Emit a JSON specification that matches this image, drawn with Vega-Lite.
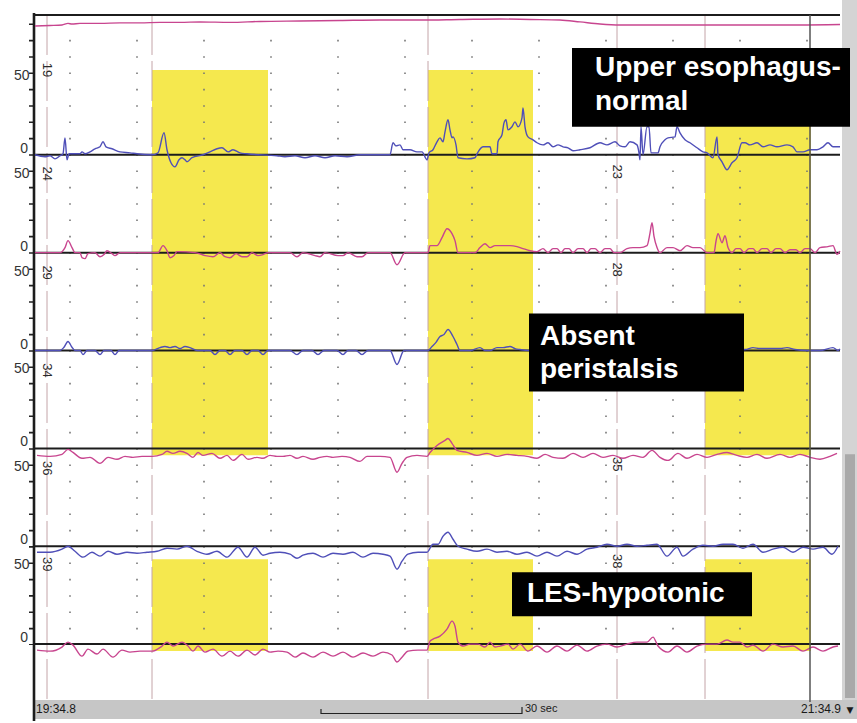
{
"$schema":"https://vega.github.io/schema/vega-lite/v6.json",
"width":857,"height":723,
"autosize":{"type":"fit","contains":"padding"},
"padding":0,
"background":"#ffffff",
"config":{"view":{"stroke":null},"text":{"font":"Liberation Sans"}},
"resolve":{"scale":{"y":"independent"}},
"datasets":{
"panel":[{"kind":"strip","x":842,"x2":857,"y":0,"y2":701},{"kind":"thumb","x":845,"x2":855,"y":455,"y2":699},{"kind":"bar","x":33,"x2":857,"y":701,"y2":720}],
"bands":[{"x":152,"x2":268,"y":70,"y2":456},{"x":152,"x2":268,"y":560,"y2":652},{"x":428,"x2":533,"y":70,"y2":456},{"x":428,"x2":533,"y":560,"y2":652},{"x":705,"x2":811,"y":70,"y2":456},{"x":705,"x2":811,"y":560,"y2":652}],
"vlines":[{"x":47,"y":15,"y2":703},{"x":152,"y":15,"y2":703},{"x":428,"y":15,"y2":703},{"x":617,"y":15,"y2":703},{"x":705,"y":15,"y2":703}],
"dots":[{"x":70,"y":39.9,"y2":646},{"x":137,"y":39.9,"y2":646},{"x":204,"y":39.9,"y2":646},{"x":271,"y":39.9,"y2":646},{"x":338,"y":39.9,"y2":646},{"x":405,"y":39.9,"y2":646},{"x":472,"y":39.9,"y2":646},{"x":539,"y":39.9,"y2":646},{"x":606,"y":39.9,"y2":646},{"x":673,"y":39.9,"y2":646},{"x":740,"y":39.9,"y2":646},{"x":807,"y":39.9,"y2":646}],
"ticks":[{"x":31,"y":23.5,"y2":646}],
"hlines":[{"x":35,"x2":840,"y":15},{"x":35,"x2":840,"y":155},{"x":35,"x2":840,"y":253},{"x":35,"x2":840,"y":351},{"x":35,"x2":840,"y":449},{"x":35,"x2":840,"y":547},{"x":35,"x2":840,"y":645}],
"axisline":[{"x":34,"y":13,"y2":722}],
"cursor":[{"x":810,"y":15,"y2":703}],
"axislabels":[{"x":29.5,"y":76,"label":"50"},{"x":28,"y":149,"label":"0"},{"x":29.5,"y":174,"label":"50"},{"x":28,"y":247,"label":"0"},{"x":29.5,"y":272,"label":"50"},{"x":28,"y":345,"label":"0"},{"x":29.5,"y":370,"label":"50"},{"x":28,"y":443,"label":"0"},{"x":29.5,"y":468,"label":"50"},{"x":28,"y":541,"label":"0"},{"x":29.5,"y":566,"label":"50"},{"x":28,"y":639,"label":"0"}],
"chlabels":[{"x":47,"y":70,"label":"19"},{"x":47,"y":174,"label":"24"},{"x":47,"y":273,"label":"29"},{"x":47,"y":371,"label":"34"},{"x":47,"y":469,"label":"36"},{"x":47,"y":565,"label":"39"},{"x":617,"y":172,"label":"23"},{"x":617,"y":270,"label":"28"},{"x":617,"y":465,"label":"35"},{"x":617,"y":562,"label":"38"}],
"boxes":[{"x":572,"x2":850,"y":48,"y2":127},{"x":529,"x2":744,"y":314,"y2":392},{"x":512,"x2":752,"y":573,"y2":617}],
"boxtext":[{"x":595,"y":76,"label":"Upper esophagus-"},{"x":595,"y":110,"label":"normal"},{"x":540,"y":345,"label":"Absent"},{"x":540,"y":379,"label":"peristalsis"},{"x":527,"y":603,"label":"LES-hypotonic"}],
"footleft":[{"x":36,"y":710,"label":"19:34.8"}],
"footmid":[{"x":525,"y":710,"label":"30 sec"}],
"footright":[{"x":841,"y":710,"label":"21:34.9"}],
"footarrow":[{"x":850,"y":711,"label":"▼"}],
"scalebar":[{"x":321,"x2":522,"y":714.5}],
"scaleticks":[{"x":321,"y":710,"y2":715},{"x":522,"y":708,"y2":715}],
"c14":[{"t":35,"p":19.0},{"t":50,"p":19.3},{"t":62,"p":19.6},{"t":68,"p":20.6},{"t":72,"p":20.2},{"t":80,"p":20.6},{"t":100,"p":20.6},{"t":120,"p":20.9},{"t":140,"p":20.9},{"t":160,"p":21.2},{"t":180,"p":21.2},{"t":200,"p":21.5},{"t":230,"p":21.2},{"t":260,"p":21.8},{"t":300,"p":22.1},{"t":340,"p":22.4},{"t":380,"p":22.7},{"t":420,"p":22.7},{"t":460,"p":23.0},{"t":500,"p":23.3},{"t":530,"p":23.0},{"t":560,"p":22.7},{"t":580,"p":21.5},{"t":600,"p":20.2},{"t":620,"p":19.6},{"t":660,"p":19.6},{"t":700,"p":19.6},{"t":760,"p":19.6},{"t":800,"p":19.6},{"t":840,"p":19.9}],
"c19":[{"t":35,"p":0},{"t":45,"p":-1.2},{"t":50,"p":-0.6},{"t":55,"p":-2.5},{"t":60,"p":-0.6},{"t":63,"p":0.6},{"t":65,"p":10.4},{"t":67,"p":-3.1},{"t":69,"p":0.6},{"t":80,"p":0.6},{"t":82,"p":1.8},{"t":85,"p":0.6},{"t":90,"p":1.8},{"t":95,"p":3.7},{"t":100,"p":4.9},{"t":103,"p":8},{"t":106,"p":4.9},{"t":112,"p":3.7},{"t":120,"p":1.8},{"t":130,"p":1.2},{"t":137,"p":0.6},{"t":152,"p":0},{"t":158,"p":1.2},{"t":164,"p":13.5},{"t":167,"p":3.1},{"t":171,"p":-4.9},{"t":175,"p":-7.4},{"t":179,"p":-3.1},{"t":182,"p":-1.8},{"t":185,"p":-3.1},{"t":187,"p":-4.3},{"t":192,"p":-1.8},{"t":203,"p":0},{"t":210,"p":1.8},{"t":217,"p":3.7},{"t":222,"p":4.3},{"t":228,"p":1.8},{"t":233,"p":3.1},{"t":240,"p":1.2},{"t":247,"p":0.6},{"t":277,"p":-0.6},{"t":285,"p":-1.2},{"t":295,"p":-0.6},{"t":305,"p":-1.8},{"t":315,"p":-0.6},{"t":325,"p":-1.8},{"t":335,"p":-0.6},{"t":347,"p":-1.2},{"t":360,"p":0},{"t":390,"p":0},{"t":393,"p":7.4},{"t":396,"p":5.5},{"t":400,"p":6.1},{"t":403,"p":3.1},{"t":410,"p":3.1},{"t":417,"p":1.8},{"t":422,"p":1.8},{"t":427,"p":-3.1},{"t":429,"p":1.2},{"t":433,"p":3.1},{"t":437,"p":8},{"t":440,"p":10.4},{"t":443,"p":8},{"t":445,"p":14.1},{"t":448,"p":21.5},{"t":450,"p":15.3},{"t":452,"p":10.4},{"t":453,"p":11},{"t":456,"p":6.1},{"t":458,"p":-1.8},{"t":467,"p":-2.5},{"t":475,"p":-1.8},{"t":477,"p":0.6},{"t":483,"p":4.9},{"t":490,"p":4.9},{"t":492,"p":0.6},{"t":497,"p":0.6},{"t":498,"p":8},{"t":502,"p":12.3},{"t":504,"p":19.6},{"t":506,"p":21.5},{"t":508,"p":15.3},{"t":512,"p":17.2},{"t":515,"p":20.2},{"t":518,"p":17.2},{"t":522,"p":22.7},{"t":523,"p":28.8},{"t":525,"p":17.2},{"t":528,"p":11},{"t":533,"p":9.2},{"t":537,"p":7.4},{"t":543,"p":6.1},{"t":548,"p":7.4},{"t":553,"p":4.9},{"t":558,"p":6.1},{"t":563,"p":4.9},{"t":568,"p":4.3},{"t":573,"p":2.5},{"t":580,"p":3.1},{"t":590,"p":4.3},{"t":600,"p":7.4},{"t":607,"p":6.1},{"t":615,"p":8},{"t":620,"p":5.5},{"t":625,"p":4.9},{"t":630,"p":8},{"t":637,"p":6.1},{"t":639,"p":1.2},{"t":640,"p":-3.1},{"t":641,"p":17.2},{"t":643,"p":0},{"t":647,"p":17.2},{"t":649,"p":17.2},{"t":651,"p":1.2},{"t":658,"p":1.2},{"t":660,"p":4.9},{"t":665,"p":9.2},{"t":668,"p":10.4},{"t":675,"p":11},{"t":677,"p":17.2},{"t":680,"p":13.5},{"t":685,"p":9.2},{"t":690,"p":7.4},{"t":697,"p":4.3},{"t":703,"p":1.8},{"t":707,"p":1.2},{"t":713,"p":-1.8},{"t":717,"p":11},{"t":718,"p":0},{"t":722,"p":-4.3},{"t":727,"p":-9.2},{"t":732,"p":-4.9},{"t":737,"p":-1.8},{"t":742,"p":7.4},{"t":745,"p":7.4},{"t":750,"p":6.1},{"t":757,"p":7.4},{"t":763,"p":4.9},{"t":770,"p":6.1},{"t":777,"p":4.9},{"t":787,"p":6.1},{"t":793,"p":4.9},{"t":797,"p":1.8},{"t":803,"p":1.8},{"t":810,"p":3.1},{"t":817,"p":3.1},{"t":823,"p":4.9},{"t":828,"p":7.4},{"t":833,"p":4.9},{"t":840,"p":4.9}],
"c24":[{"t":35,"p":0},{"t":60,"p":0},{"t":65,"p":3.1},{"t":68,"p":7.4},{"t":72,"p":3.1},{"t":75,"p":0},{"t":80,"p":0},{"t":82,"p":-3.1},{"t":85,"p":-3.7},{"t":88,"p":-0.6},{"t":95,"p":0},{"t":100,"p":-2.5},{"t":104,"p":-1.2},{"t":107,"p":1.2},{"t":112,"p":-0.6},{"t":115,"p":-1.8},{"t":120,"p":0},{"t":158,"p":0},{"t":163,"p":4.3},{"t":167,"p":1.2},{"t":170,"p":-3.1},{"t":174,"p":-1.8},{"t":177,"p":0.6},{"t":195,"p":0},{"t":205,"p":-1.8},{"t":213,"p":-2.5},{"t":220,"p":0},{"t":225,"p":-2.5},{"t":230,"p":-3.1},{"t":236,"p":-0.6},{"t":242,"p":-2.5},{"t":247,"p":-2.5},{"t":252,"p":0},{"t":258,"p":-1.8},{"t":263,"p":-1.2},{"t":268,"p":0},{"t":290,"p":0},{"t":297,"p":-2.5},{"t":303,"p":0},{"t":315,"p":-1.8},{"t":320,"p":-2.5},{"t":325,"p":0},{"t":338,"p":-1.8},{"t":343,"p":-1.8},{"t":348,"p":0},{"t":357,"p":-2.5},{"t":362,"p":-2.5},{"t":368,"p":0},{"t":390,"p":0},{"t":397,"p":-7.4},{"t":405,"p":0},{"t":428,"p":0},{"t":430,"p":4.3},{"t":437,"p":4.3},{"t":442,"p":9.2},{"t":447,"p":14.7},{"t":452,"p":11.7},{"t":455,"p":7.4},{"t":458,"p":0},{"t":475,"p":0},{"t":480,"p":3.1},{"t":485,"p":5.5},{"t":490,"p":3.1},{"t":495,"p":4.3},{"t":510,"p":4.3},{"t":517,"p":3.7},{"t":523,"p":2.5},{"t":530,"p":1.2},{"t":537,"p":0.6},{"t":543,"p":2.5},{"t":548,"p":0},{"t":553,"p":2.5},{"t":557,"p":2.5},{"t":561,"p":0},{"t":565,"p":2.5},{"t":569,"p":2.5},{"t":573,"p":0},{"t":578,"p":2.5},{"t":583,"p":2.5},{"t":587,"p":0},{"t":591,"p":2.5},{"t":595,"p":2.5},{"t":600,"p":0},{"t":605,"p":2.5},{"t":610,"p":2.5},{"t":614,"p":0},{"t":620,"p":0},{"t":627,"p":2.5},{"t":633,"p":3.1},{"t":640,"p":3.1},{"t":647,"p":4.3},{"t":650,"p":12},{"t":652,"p":18.4},{"t":654,"p":10},{"t":657,"p":3.1},{"t":660,"p":0},{"t":667,"p":3.1},{"t":673,"p":3.1},{"t":680,"p":1.2},{"t":687,"p":4.3},{"t":693,"p":3.1},{"t":700,"p":3.1},{"t":707,"p":0},{"t":714,"p":0},{"t":716,"p":7},{"t":718,"p":11.7},{"t":722,"p":6.1},{"t":725,"p":10.4},{"t":728,"p":3.1},{"t":732,"p":0},{"t":736,"p":2.5},{"t":740,"p":2.5},{"t":744,"p":0},{"t":749,"p":2.5},{"t":753,"p":2.5},{"t":757,"p":0},{"t":762,"p":2.5},{"t":767,"p":2.5},{"t":771,"p":0},{"t":776,"p":2.5},{"t":780,"p":2.5},{"t":785,"p":0},{"t":790,"p":1.8},{"t":796,"p":1.8},{"t":800,"p":0},{"t":805,"p":2.5},{"t":810,"p":2.5},{"t":815,"p":0},{"t":820,"p":3.1},{"t":828,"p":3.7},{"t":833,"p":4.3},{"t":837,"p":-1},{"t":840,"p":1}],
"c29":[{"t":35,"p":0},{"t":60,"p":0},{"t":64,"p":2},{"t":68,"p":5.5},{"t":72,"p":2},{"t":75,"p":0},{"t":80,"p":0},{"t":83,"p":-2.5},{"t":87,"p":0},{"t":95,"p":0},{"t":100,"p":-2.5},{"t":104,"p":0},{"t":111,"p":0},{"t":115,"p":-2.5},{"t":119,"p":0},{"t":152,"p":0},{"t":160,"p":1.8},{"t":165,"p":2.5},{"t":170,"p":1.8},{"t":175,"p":2.5},{"t":180,"p":1.2},{"t":185,"p":2.5},{"t":190,"p":1.8},{"t":197,"p":0},{"t":210,"p":0},{"t":215,"p":-2.5},{"t":220,"p":0},{"t":225,"p":0},{"t":230,"p":-2.5},{"t":235,"p":0},{"t":242,"p":0},{"t":247,"p":-2.5},{"t":252,"p":0},{"t":258,"p":0},{"t":263,"p":-2.5},{"t":268,"p":0},{"t":290,"p":0},{"t":297,"p":-2.5},{"t":303,"p":0},{"t":312,"p":0},{"t":318,"p":-2.5},{"t":324,"p":0},{"t":337,"p":0},{"t":343,"p":-2.5},{"t":348,"p":0},{"t":356,"p":0},{"t":362,"p":-2.5},{"t":368,"p":0},{"t":390,"p":0},{"t":397,"p":-8.6},{"t":404,"p":0},{"t":428,"p":0},{"t":432,"p":2.5},{"t":436,"p":5},{"t":440,"p":8.6},{"t":444,"p":9.8},{"t":448,"p":12.9},{"t":453,"p":8.6},{"t":457,"p":3.7},{"t":460,"p":0},{"t":470,"p":0},{"t":480,"p":1.8},{"t":485,"p":0},{"t":490,"p":0},{"t":497,"p":1.8},{"t":503,"p":1.8},{"t":510,"p":2.5},{"t":515,"p":1.2},{"t":520,"p":0.6},{"t":528,"p":0},{"t":540,"p":0.6},{"t":560,"p":0},{"t":600,"p":1},{"t":640,"p":0.6},{"t":680,"p":1},{"t":720,"p":0.6},{"t":745,"p":0.6},{"t":753,"p":1.8},{"t":760,"p":1.2},{"t":770,"p":1.2},{"t":780,"p":1.2},{"t":787,"p":1.8},{"t":795,"p":0.6},{"t":807,"p":0},{"t":820,"p":0},{"t":833,"p":1.8},{"t":838,"p":0},{"t":840,"p":1}],
"c34":[{"t":37,"p":-4.3},{"t":50,"p":-4.9},{"t":62,"p":-3.7},{"t":68,"p":-0.6},{"t":73,"p":-2.5},{"t":82,"p":-6.1},{"t":90,"p":-5.5},{"t":100,"p":-9.2},{"t":108,"p":-5.5},{"t":117,"p":-6.7},{"t":125,"p":-4.9},{"t":133,"p":-5.5},{"t":142,"p":-4.9},{"t":152,"p":-4.9},{"t":162,"p":-3.7},{"t":167,"p":-1.8},{"t":173,"p":-3.1},{"t":180,"p":-1.8},{"t":187,"p":-3.1},{"t":193,"p":-5.5},{"t":198,"p":-2.5},{"t":203,"p":-4.3},{"t":212,"p":-3.1},{"t":220,"p":-6.1},{"t":227,"p":-4.3},{"t":233,"p":-7.4},{"t":242,"p":-3.7},{"t":248,"p":-6.7},{"t":257,"p":-5.5},{"t":263,"p":-6.1},{"t":270,"p":-4.3},{"t":277,"p":-4.9},{"t":283,"p":-4.9},{"t":290,"p":-4.3},{"t":297,"p":-6.1},{"t":303,"p":-4.9},{"t":313,"p":-6.7},{"t":320,"p":-5.5},{"t":327,"p":-4.9},{"t":333,"p":-5.5},{"t":342,"p":-4.9},{"t":350,"p":-5.5},{"t":360,"p":-8.0},{"t":367,"p":-4.9},{"t":380,"p":-4.9},{"t":390,"p":-5.5},{"t":397,"p":-14.7},{"t":402,"p":-9.2},{"t":407,"p":-5.5},{"t":417,"p":-4.3},{"t":427,"p":-4.9},{"t":430,"p":-2.5},{"t":437,"p":1.8},{"t":445,"p":4.9},{"t":448,"p":6.1},{"t":452,"p":3.1},{"t":457,"p":-1.2},{"t":467,"p":-2.5},{"t":477,"p":-4.3},{"t":487,"p":-3.1},{"t":497,"p":-4.9},{"t":507,"p":-3.7},{"t":517,"p":-4.3},{"t":527,"p":-4.9},{"t":537,"p":-6.1},{"t":545,"p":-3.7},{"t":553,"p":-5.5},{"t":563,"p":-6.1},{"t":573,"p":-3.1},{"t":583,"p":-5.5},{"t":593,"p":-3.1},{"t":603,"p":-5.5},{"t":613,"p":-4.3},{"t":623,"p":-6.1},{"t":633,"p":-4.3},{"t":643,"p":-5.5},{"t":652,"p":-1.2},{"t":660,"p":-5.5},{"t":668,"p":-7.4},{"t":678,"p":-3.1},{"t":687,"p":-6.1},{"t":697,"p":-3.7},{"t":707,"p":-5.5},{"t":717,"p":-3.7},{"t":727,"p":-2.5},{"t":737,"p":-4.3},{"t":747,"p":-5.5},{"t":757,"p":-3.7},{"t":767,"p":-6.1},{"t":780,"p":-3.7},{"t":790,"p":-5.5},{"t":800,"p":-3.7},{"t":810,"p":-5.5},{"t":820,"p":-6.7},{"t":830,"p":-4.9},{"t":837,"p":-3.1}],
"c36":[{"t":37,"p":-3.7},{"t":50,"p":-3.7},{"t":62,"p":-1.8},{"t":68,"p":0},{"t":75,"p":-3.1},{"t":83,"p":-6.7},{"t":92,"p":-3.7},{"t":100,"p":-6.1},{"t":108,"p":-3.1},{"t":117,"p":-4.9},{"t":127,"p":-3.7},{"t":137,"p":-4.3},{"t":147,"p":-3.7},{"t":157,"p":-3.1},{"t":167,"p":-1.2},{"t":177,"p":-1.8},{"t":187,"p":0},{"t":197,"p":-3.1},{"t":207,"p":-4.9},{"t":217,"p":-3.1},{"t":227,"p":-6.7},{"t":238,"p":-0.6},{"t":247,"p":-6.7},{"t":255,"p":-0.6},{"t":263,"p":-5.5},{"t":270,"p":-4.3},{"t":280,"p":-3.7},{"t":290,"p":-4.9},{"t":297,"p":-7.4},{"t":303,"p":-5.5},{"t":313,"p":-4.3},{"t":323,"p":-6.7},{"t":333,"p":-4.3},{"t":343,"p":-4.9},{"t":353,"p":-3.7},{"t":363,"p":-6.7},{"t":373,"p":-4.3},{"t":383,"p":-4.9},{"t":390,"p":-6.1},{"t":397,"p":-14.1},{"t":402,"p":-9.2},{"t":408,"p":-4.9},{"t":418,"p":-3.7},{"t":427,"p":-3.7},{"t":433,"p":1.2},{"t":438,"p":1.2},{"t":443,"p":6.1},{"t":448,"p":8.6},{"t":453,"p":4.3},{"t":458,"p":0},{"t":467,"p":-1.8},{"t":477,"p":-3.1},{"t":487,"p":-1.8},{"t":497,"p":-3.7},{"t":507,"p":-3.1},{"t":517,"p":-4.9},{"t":527,"p":-3.7},{"t":537,"p":-6.1},{"t":547,"p":-3.7},{"t":557,"p":-6.1},{"t":567,"p":-3.1},{"t":577,"p":-4.9},{"t":587,"p":-1.8},{"t":597,"p":-0.6},{"t":607,"p":1.2},{"t":617,"p":0},{"t":627,"p":1.2},{"t":637,"p":0},{"t":647,"p":0.6},{"t":657,"p":1.2},{"t":667,"p":-6.1},{"t":677,"p":-0.6},{"t":683,"p":-6.1},{"t":693,"p":-1.8},{"t":703,"p":0.6},{"t":713,"p":0},{"t":723,"p":1.2},{"t":733,"p":1.2},{"t":743,"p":-1.2},{"t":753,"p":1.2},{"t":763,"p":-3.7},{"t":773,"p":-1.8},{"t":783,"p":-0.6},{"t":793,"p":-3.7},{"t":803,"p":-0.6},{"t":813,"p":-1.8},{"t":823,"p":-0.6},{"t":832,"p":-4.9},{"t":838,"p":0}],
"c39":[{"t":37,"p":-3.7},{"t":50,"p":-4.3},{"t":62,"p":-1.8},{"t":68,"p":1.2},{"t":73,"p":-0.6},{"t":82,"p":-7.4},{"t":88,"p":-3.1},{"t":97,"p":-6.1},{"t":103,"p":-3.1},{"t":113,"p":-8.0},{"t":122,"p":-3.7},{"t":130,"p":-4.9},{"t":140,"p":-4.3},{"t":152,"p":-4.3},{"t":162,"p":-1.2},{"t":167,"p":1.2},{"t":173,"p":-1.2},{"t":182,"p":1.2},{"t":188,"p":-1.2},{"t":193,"p":-4.3},{"t":198,"p":-1.2},{"t":205,"p":-4.9},{"t":213,"p":-3.1},{"t":222,"p":-7.4},{"t":230,"p":-4.3},{"t":238,"p":-7.4},{"t":247,"p":-3.7},{"t":255,"p":-6.7},{"t":263,"p":-3.1},{"t":270,"p":-4.9},{"t":278,"p":-4.3},{"t":287,"p":-4.9},{"t":295,"p":-8.0},{"t":303,"p":-5.5},{"t":313,"p":-8.0},{"t":323,"p":-4.9},{"t":333,"p":-7.4},{"t":343,"p":-4.9},{"t":353,"p":-8.0},{"t":363,"p":-5.5},{"t":373,"p":-7.4},{"t":383,"p":-4.9},{"t":392,"p":-6.7},{"t":397,"p":-11.0},{"t":402,"p":-8.0},{"t":408,"p":-4.3},{"t":418,"p":-3.7},{"t":427,"p":-3.7},{"t":430,"p":1.8},{"t":433,"p":3.1},{"t":440,"p":4.9},{"t":447,"p":9.2},{"t":452,"p":14.1},{"t":455,"p":11.0},{"t":458,"p":1.2},{"t":463,"p":-1.2},{"t":470,"p":0},{"t":478,"p":0},{"t":485,"p":-1.8},{"t":490,"p":1.2},{"t":495,"p":-1.8},{"t":500,"p":-1.2},{"t":508,"p":0},{"t":513,"p":-3.1},{"t":520,"p":0},{"t":528,"p":-4.3},{"t":537,"p":-1.2},{"t":547,"p":-4.9},{"t":557,"p":-1.2},{"t":567,"p":-4.3},{"t":577,"p":-0.6},{"t":587,"p":-4.3},{"t":597,"p":-1.2},{"t":607,"p":0},{"t":617,"p":-1.8},{"t":627,"p":0},{"t":637,"p":1.2},{"t":647,"p":1.2},{"t":653,"p":4.3},{"t":658,"p":-1.2},{"t":668,"p":-4.9},{"t":677,"p":-1.2},{"t":687,"p":-4.9},{"t":697,"p":-1.2},{"t":707,"p":0},{"t":717,"p":0},{"t":727,"p":2.5},{"t":733,"p":1.2},{"t":740,"p":1.2},{"t":747,"p":-1.8},{"t":753,"p":-0.6},{"t":763,"p":-4.3},{"t":773,"p":0},{"t":783,"p":-1.8},{"t":793,"p":-1.2},{"t":803,"p":-4.3},{"t":813,"p":-1.8},{"t":823,"p":-4.3},{"t":833,"p":-1.8},{"t":838,"p":-1.2}]
},
"layer":[
{"data":{"name":"panel"},"transform":[{"filter":"datum.kind==='strip'"}],"mark":{"type":"rect","color":"#d4d4d4"},"encoding":{"x":{"field":"x","type":"quantitative","scale":{"domain":[0,857],"nice":false,"zero":false},"axis":null},"x2":{"field":"x2"},"y":{"field":"y","type":"quantitative","scale":{"domain":[723,0],"nice":false,"zero":false},"axis":null},"y2":{"field":"y2"}}},
{"data":{"name":"panel"},"transform":[{"filter":"datum.kind==='thumb'"}],"mark":{"type":"rect","color":"#a9a9a9"},"encoding":{"x":{"field":"x","type":"quantitative","scale":{"domain":[0,857],"nice":false,"zero":false},"axis":null},"x2":{"field":"x2"},"y":{"field":"y","type":"quantitative","scale":{"domain":[723,0],"nice":false,"zero":false},"axis":null},"y2":{"field":"y2"}}},
{"data":{"name":"panel"},"transform":[{"filter":"datum.kind==='bar'"}],"mark":{"type":"rect","color":"#c6c6c6"},"encoding":{"x":{"field":"x","type":"quantitative","scale":{"domain":[0,857],"nice":false,"zero":false},"axis":null},"x2":{"field":"x2"},"y":{"field":"y","type":"quantitative","scale":{"domain":[723,0],"nice":false,"zero":false},"axis":null},"y2":{"field":"y2"}}},
{"data":{"name":"bands"},"mark":{"type":"rect","color":"#f5e84e"},"encoding":{"x":{"field":"x","type":"quantitative","scale":{"domain":[0,857],"nice":false,"zero":false},"axis":null},"x2":{"field":"x2"},"y":{"field":"y","type":"quantitative","scale":{"domain":[723,0],"nice":false,"zero":false},"axis":null},"y2":{"field":"y2"}}},
{"data":{"name":"vlines"},"mark":{"type":"rule","color":"#c4a4a8","strokeWidth":1,"strokeDash":[40,6]},"encoding":{"x":{"field":"x","type":"quantitative","scale":{"domain":[0,857],"nice":false,"zero":false},"axis":null},"y":{"field":"y","type":"quantitative","scale":{"domain":[723,0],"nice":false,"zero":false},"axis":null},"y2":{"field":"y2"}}},
{"data":{"name":"dots"},"mark":{"type":"rule","color":"#777777","strokeWidth":1.6,"strokeDash":[1.6,14.733]},"encoding":{"x":{"field":"x","type":"quantitative","scale":{"domain":[0,857],"nice":false,"zero":false},"axis":null},"y":{"field":"y","type":"quantitative","scale":{"domain":[723,0],"nice":false,"zero":false},"axis":null},"y2":{"field":"y2"}}},
{"data":{"name":"ticks"},"mark":{"type":"rule","color":"#222222","strokeWidth":4,"strokeDash":[1.6,14.733]},"encoding":{"x":{"field":"x","type":"quantitative","scale":{"domain":[0,857],"nice":false,"zero":false},"axis":null},"y":{"field":"y","type":"quantitative","scale":{"domain":[723,0],"nice":false,"zero":false},"axis":null},"y2":{"field":"y2"}}},
{"data":{"name":"hlines"},"mark":{"type":"rule","color":"#1c1c1c","strokeWidth":2},"encoding":{"x":{"field":"x","type":"quantitative","scale":{"domain":[0,857],"nice":false,"zero":false},"axis":null},"x2":{"field":"x2"},"y":{"field":"y","type":"quantitative","scale":{"domain":[723,0],"nice":false,"zero":false},"axis":null}}},
{"data":{"name":"axisline"},"mark":{"type":"rule","color":"#1c1c1c","strokeWidth":2.6},"encoding":{"x":{"field":"x","type":"quantitative","scale":{"domain":[0,857],"nice":false,"zero":false},"axis":null},"y":{"field":"y","type":"quantitative","scale":{"domain":[723,0],"nice":false,"zero":false},"axis":null},"y2":{"field":"y2"}}},
{"data":{"name":"axislabels"},"mark":{"type":"text","align":"right","baseline":"middle","fontSize":14,"color":"#333333"},"encoding":{"x":{"field":"x","type":"quantitative","scale":{"domain":[0,857],"nice":false,"zero":false},"axis":null},"y":{"field":"y","type":"quantitative","scale":{"domain":[723,0],"nice":false,"zero":false},"axis":null},"text":{"field":"label"}}},
{"data":{"name":"chlabels"},"mark":{"type":"text","align":"center","baseline":"middle","fontSize":13,"angle":90,"color":"#2a2a2a"},"encoding":{"x":{"field":"x","type":"quantitative","scale":{"domain":[0,857],"nice":false,"zero":false},"axis":null},"y":{"field":"y","type":"quantitative","scale":{"domain":[723,0],"nice":false,"zero":false},"axis":null},"text":{"field":"label"}}},
{"data":{"name":"c14"},"mark":{"type":"line","color":"#c8458f","strokeWidth":1.4,"interpolate":"monotone"},"encoding":{"x":{"field":"t","type":"quantitative","scale":{"domain":[0,857],"nice":false,"zero":false},"axis":null},"y":{"field":"p","type":"quantitative","scale":{"domain":[-408.59,34.97],"nice":false,"zero":false},"axis":null}}},
{"data":{"name":"c19"},"mark":{"type":"line","color":"#4f4fb8","strokeWidth":1.4,"interpolate":"monotone"},"encoding":{"x":{"field":"t","type":"quantitative","scale":{"domain":[0,857],"nice":false,"zero":false},"axis":null},"y":{"field":"p","type":"quantitative","scale":{"domain":[-348.47,95.09],"nice":false,"zero":false},"axis":null}}},
{"data":{"name":"c24"},"mark":{"type":"line","color":"#c8458f","strokeWidth":1.4,"interpolate":"monotone"},"encoding":{"x":{"field":"t","type":"quantitative","scale":{"domain":[0,857],"nice":false,"zero":false},"axis":null},"y":{"field":"p","type":"quantitative","scale":{"domain":[-288.34,155.21],"nice":false,"zero":false},"axis":null}}},
{"data":{"name":"c29"},"mark":{"type":"line","color":"#4f4fb8","strokeWidth":1.4,"interpolate":"monotone"},"encoding":{"x":{"field":"t","type":"quantitative","scale":{"domain":[0,857],"nice":false,"zero":false},"axis":null},"y":{"field":"p","type":"quantitative","scale":{"domain":[-228.22,215.34],"nice":false,"zero":false},"axis":null}}},
{"data":{"name":"c34"},"mark":{"type":"line","color":"#c8458f","strokeWidth":1.4,"interpolate":"monotone"},"encoding":{"x":{"field":"t","type":"quantitative","scale":{"domain":[0,857],"nice":false,"zero":false},"axis":null},"y":{"field":"p","type":"quantitative","scale":{"domain":[-168.10,275.46],"nice":false,"zero":false},"axis":null}}},
{"data":{"name":"c36"},"mark":{"type":"line","color":"#4f4fb8","strokeWidth":1.4,"interpolate":"monotone"},"encoding":{"x":{"field":"t","type":"quantitative","scale":{"domain":[0,857],"nice":false,"zero":false},"axis":null},"y":{"field":"p","type":"quantitative","scale":{"domain":[-107.98,335.58],"nice":false,"zero":false},"axis":null}}},
{"data":{"name":"c39"},"mark":{"type":"line","color":"#c8458f","strokeWidth":1.4,"interpolate":"monotone"},"encoding":{"x":{"field":"t","type":"quantitative","scale":{"domain":[0,857],"nice":false,"zero":false},"axis":null},"y":{"field":"p","type":"quantitative","scale":{"domain":[-47.85,395.71],"nice":false,"zero":false},"axis":null}}},
{"data":{"name":"cursor"},"mark":{"type":"rule","color":"#555555","strokeWidth":1.5},"encoding":{"x":{"field":"x","type":"quantitative","scale":{"domain":[0,857],"nice":false,"zero":false},"axis":null},"y":{"field":"y","type":"quantitative","scale":{"domain":[723,0],"nice":false,"zero":false},"axis":null},"y2":{"field":"y2"}}},
{"data":{"name":"boxes"},"mark":{"type":"rect","color":"#000000"},"encoding":{"x":{"field":"x","type":"quantitative","scale":{"domain":[0,857],"nice":false,"zero":false},"axis":null},"x2":{"field":"x2"},"y":{"field":"y","type":"quantitative","scale":{"domain":[723,0],"nice":false,"zero":false},"axis":null},"y2":{"field":"y2"}}},
{"data":{"name":"boxtext"},"mark":{"type":"text","align":"left","baseline":"alphabetic","fontSize":28,"fontWeight":"bold","color":"#ffffff","font":"Liberation Sans"},"encoding":{"x":{"field":"x","type":"quantitative","scale":{"domain":[0,857],"nice":false,"zero":false},"axis":null},"y":{"field":"y","type":"quantitative","scale":{"domain":[723,0],"nice":false,"zero":false},"axis":null},"text":{"field":"label"}}},
{"data":{"name":"footleft"},"mark":{"type":"text","align":"left","baseline":"middle","fontSize":12,"color":"#1a1a1a"},"encoding":{"x":{"field":"x","type":"quantitative","scale":{"domain":[0,857],"nice":false,"zero":false},"axis":null},"y":{"field":"y","type":"quantitative","scale":{"domain":[723,0],"nice":false,"zero":false},"axis":null},"text":{"field":"label"}}},
{"data":{"name":"footmid"},"mark":{"type":"text","align":"left","baseline":"middle","fontSize":11,"color":"#1a1a1a"},"encoding":{"x":{"field":"x","type":"quantitative","scale":{"domain":[0,857],"nice":false,"zero":false},"axis":null},"y":{"field":"y","type":"quantitative","scale":{"domain":[723,0],"nice":false,"zero":false},"axis":null},"text":{"field":"label"}}},
{"data":{"name":"footright"},"mark":{"type":"text","align":"right","baseline":"middle","fontSize":12,"color":"#1a1a1a"},"encoding":{"x":{"field":"x","type":"quantitative","scale":{"domain":[0,857],"nice":false,"zero":false},"axis":null},"y":{"field":"y","type":"quantitative","scale":{"domain":[723,0],"nice":false,"zero":false},"axis":null},"text":{"field":"label"}}},
{"data":{"name":"footarrow"},"mark":{"type":"text","align":"center","baseline":"middle","fontSize":9,"color":"#1a1a1a","font":"DejaVu Sans"},"encoding":{"x":{"field":"x","type":"quantitative","scale":{"domain":[0,857],"nice":false,"zero":false},"axis":null},"y":{"field":"y","type":"quantitative","scale":{"domain":[723,0],"nice":false,"zero":false},"axis":null},"text":{"field":"label"}}},
{"data":{"name":"scalebar"},"mark":{"type":"rule","color":"#222222","strokeWidth":1.2},"encoding":{"x":{"field":"x","type":"quantitative","scale":{"domain":[0,857],"nice":false,"zero":false},"axis":null},"x2":{"field":"x2"},"y":{"field":"y","type":"quantitative","scale":{"domain":[723,0],"nice":false,"zero":false},"axis":null}}},
{"data":{"name":"scaleticks"},"mark":{"type":"rule","color":"#222222","strokeWidth":1.2},"encoding":{"x":{"field":"x","type":"quantitative","scale":{"domain":[0,857],"nice":false,"zero":false},"axis":null},"y":{"field":"y","type":"quantitative","scale":{"domain":[723,0],"nice":false,"zero":false},"axis":null},"y2":{"field":"y2"}}}
]
}
